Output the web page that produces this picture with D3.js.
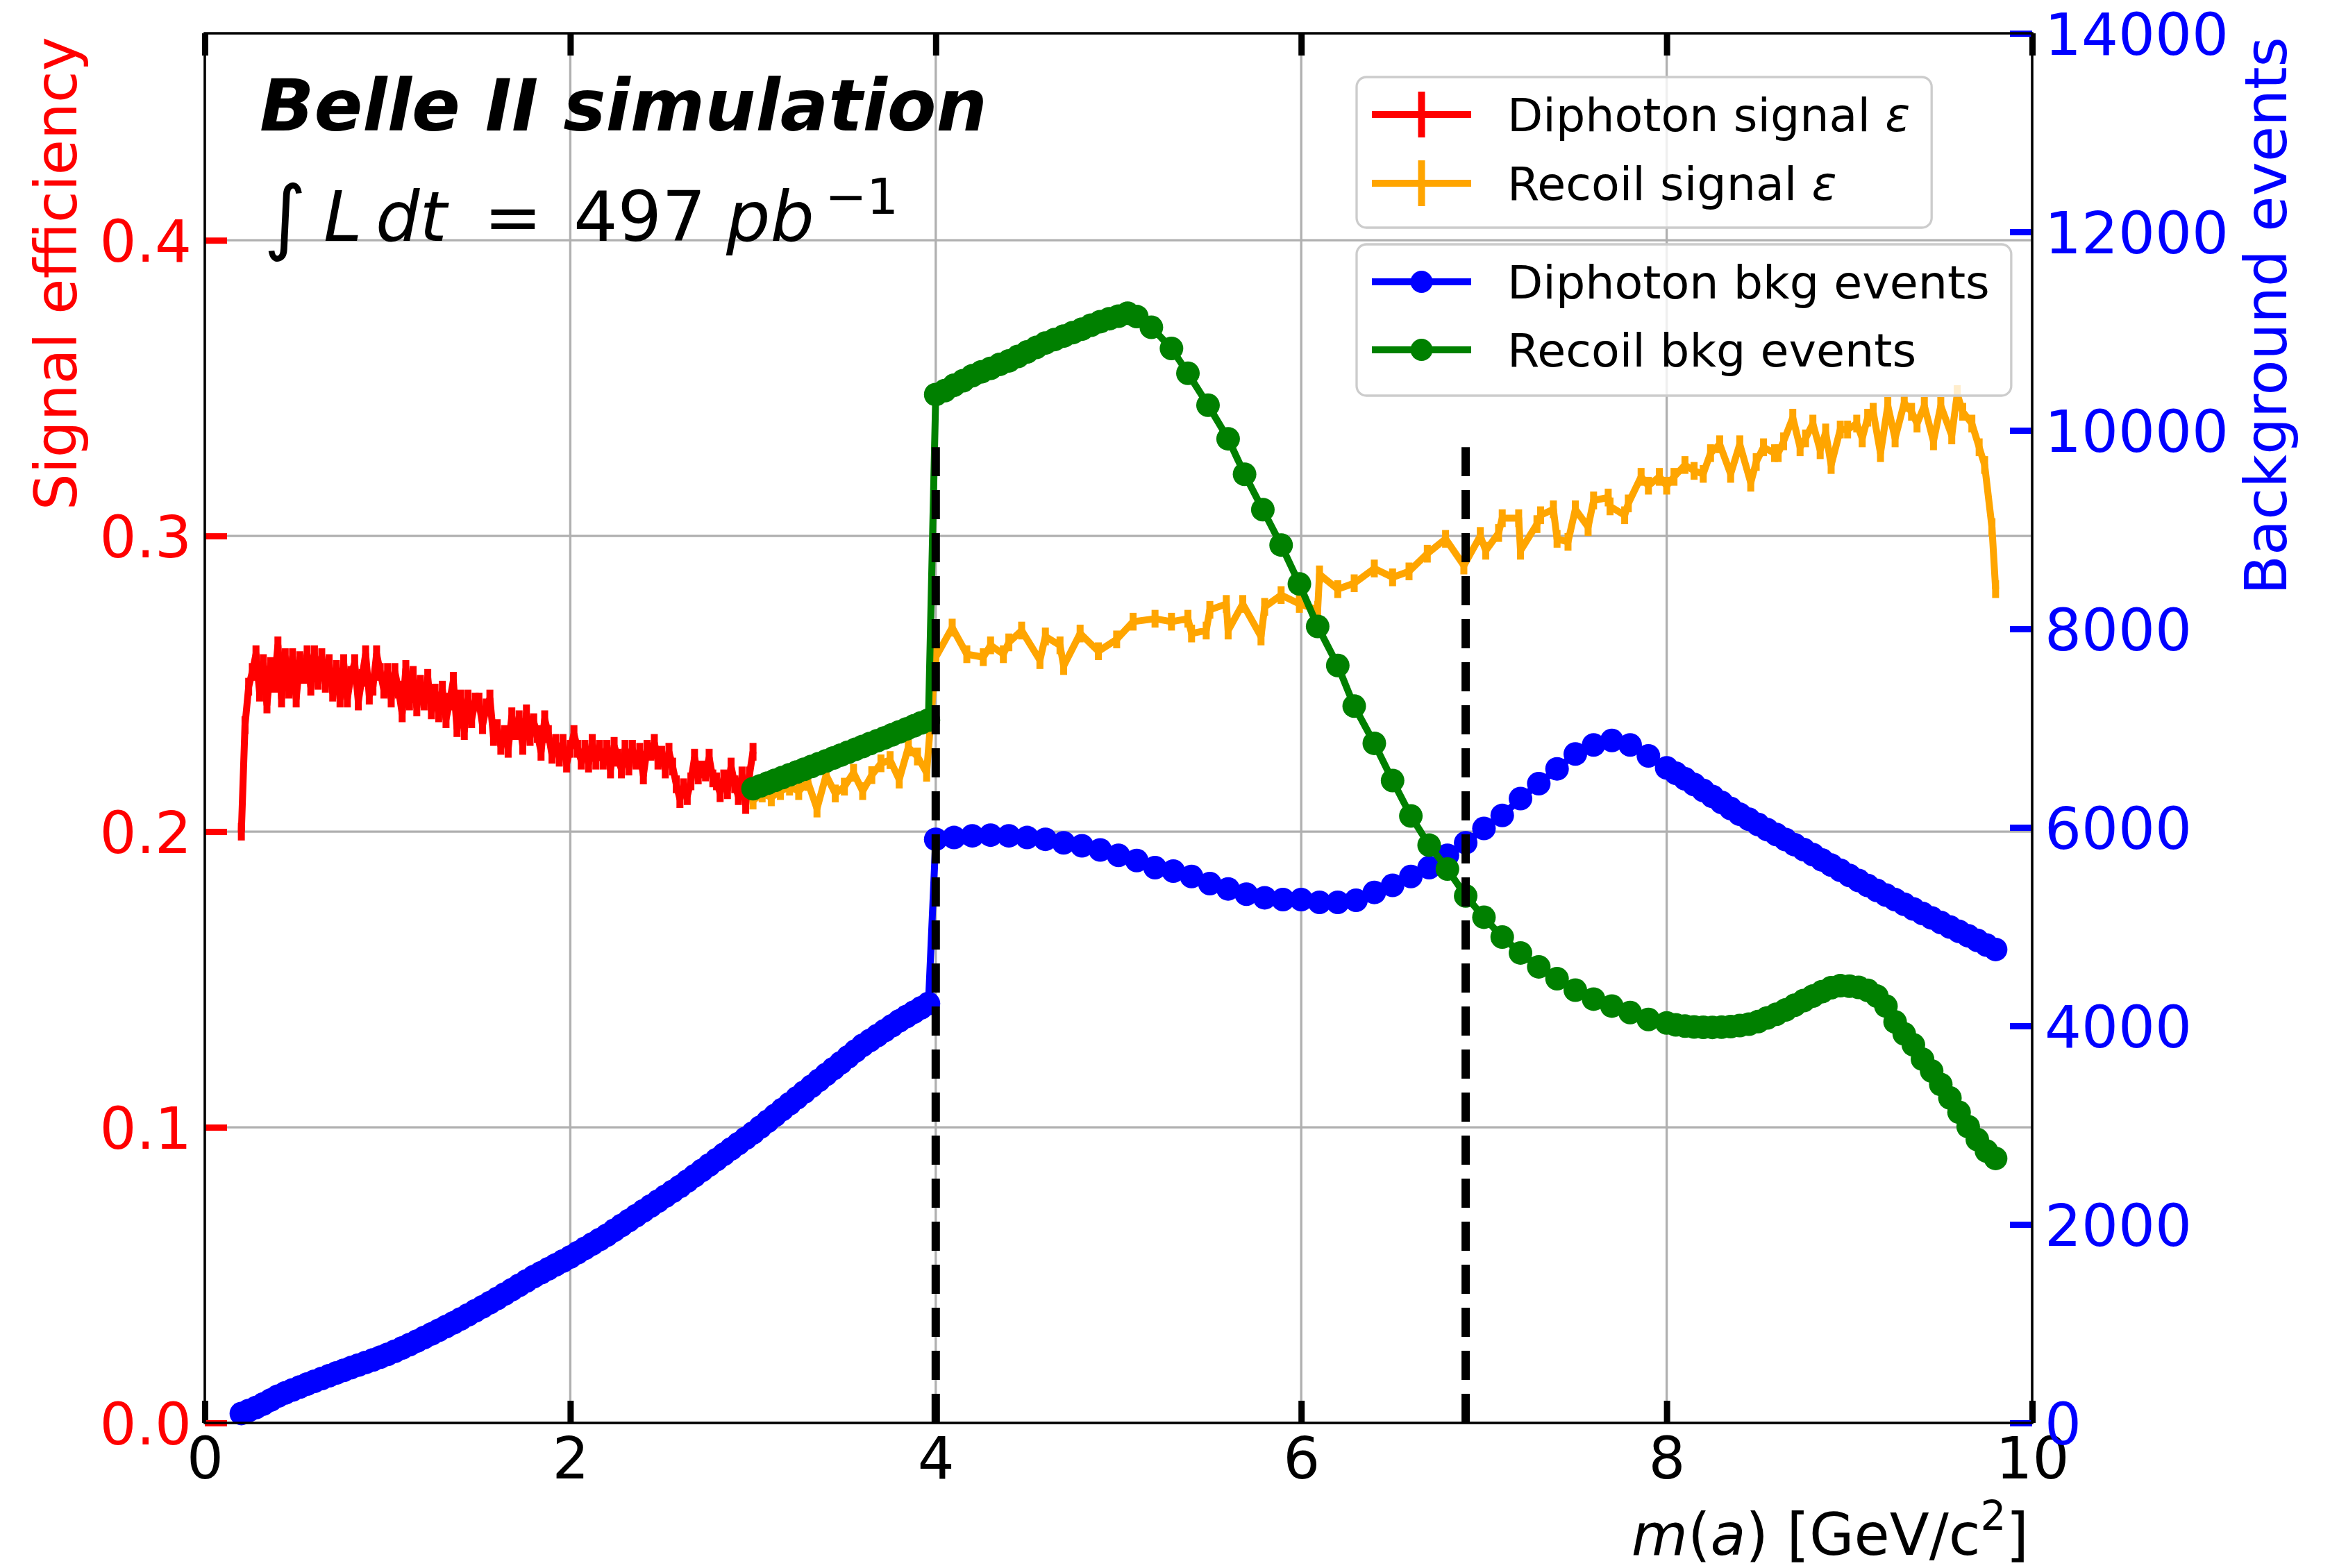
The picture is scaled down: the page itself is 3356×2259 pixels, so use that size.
<!DOCTYPE html>
<html>
<head>
<meta charset="utf-8">
<script src="https://cdn.jsdelivr.net/npm/d3@7"></script>
<style>
  html, body { margin: 0; padding: 0; background: #ffffff; }
  svg { display: block; font-family: "DejaVu Sans", sans-serif; }
</style>
</head>
<body>
<svg id="chart" width="3356" height="2259"></svg>
<script>
// ---------------------------------------------------------------------------
// Tick labels
// ---------------------------------------------------------------------------
const massTicks = [0, 2, 4, 6, 8, 10];
const effTicks = [0.0, 0.1, 0.2, 0.3, 0.4];
const bkgTicks = [0, 2000, 4000, 6000, 8000, 10000, 12000, 14000];

// Mass points of a regular scan, start..stop inclusive
function scan(start, stop, step) {
  const n = Math.round((stop - start) / step);
  return d3.range(n + 1).map(i => +(start + i * step).toFixed(2));
}

// ---------------------------------------------------------------------------
// Diphoton signal efficiency (left axis)
// ---------------------------------------------------------------------------
const diphotonEffMass = scan(0.20, 3.00, 0.02);
const diphotonEff = [
  0.200, 0.236, 0.249, 0.254, 0.260, 0.247, 0.257, 0.243, 0.256, 0.250,
  0.263, 0.245, 0.259, 0.248, 0.259, 0.245, 0.258, 0.253, 0.260, 0.249,
  0.260, 0.251, 0.259, 0.250, 0.257, 0.247, 0.255, 0.245, 0.257, 0.245,
  0.253, 0.257, 0.244, 0.252, 0.260, 0.246, 0.249, 0.260, 0.254, 0.248,
  0.254, 0.245, 0.254, 0.248, 0.240, 0.255, 0.244, 0.253, 0.242, 0.250,
  0.244, 0.252, 0.241, 0.247, 0.240, 0.248, 0.238, 0.244, 0.251, 0.235,
  0.245, 0.234, 0.245, 0.238, 0.244, 0.244, 0.236, 0.242, 0.245, 0.232,
  0.235, 0.229, 0.233, 0.228, 0.239, 0.234, 0.238, 0.229, 0.240, 0.232,
  0.237, 0.233, 0.227, 0.238, 0.233, 0.226, 0.230, 0.225, 0.230, 0.223,
  0.228, 0.233, 0.228, 0.224, 0.228, 0.223, 0.230, 0.224, 0.228, 0.224,
  0.228, 0.221, 0.229, 0.225, 0.221, 0.228, 0.222, 0.228, 0.224, 0.227,
  0.219, 0.228, 0.227, 0.230, 0.224, 0.226, 0.221, 0.227, 0.222, 0.216,
  0.211, 0.215, 0.212, 0.217, 0.225, 0.219, 0.221, 0.220, 0.225, 0.218,
  0.217, 0.213, 0.218, 0.214, 0.222, 0.216, 0.212, 0.219, 0.209, 0.219,
  0.227
];
const diphotonEffErr = 0.003;

// ---------------------------------------------------------------------------
// Recoil signal efficiency (left axis)
// ---------------------------------------------------------------------------
const recoilEffMass = [
  3.00, 3.05, 3.10, 3.15, 3.20, 3.25, 3.30, 3.35, 3.40, 3.45,
  3.50, 3.55, 3.60, 3.65, 3.70, 3.75, 3.80, 3.85, 3.90, 3.95,
  4.00, 4.09, 4.17, 4.26, 4.30, 4.37, 4.40, 4.47, 4.57, 4.60,
  4.68, 4.70, 4.79, 4.89, 4.99, 5.08, 5.20, 5.29, 5.38, 5.40,
  5.48, 5.50, 5.59, 5.60, 5.68, 5.78, 5.80, 5.89, 5.99, 6.09,
  6.10, 6.20, 6.29, 6.40, 6.50, 6.59,
  6.69, 6.79, 6.89, 6.98, 7.01, 7.08, 7.10, 7.19, 7.20, 7.29,
  7.31, 7.38, 7.40, 7.46, 7.50, 7.57, 7.60, 7.68, 7.69, 7.77,
  7.79, 7.86, 7.90, 7.96, 8.00, 8.04, 8.10, 8.15, 8.20, 8.24,
  8.29, 8.35, 8.40, 8.46, 8.49, 8.53, 8.59, 8.61, 8.64, 8.69,
  8.73, 8.76, 8.80, 8.84, 8.87, 8.90, 8.95, 8.99, 9.04, 9.07,
  9.10, 9.13, 9.17, 9.21, 9.25, 9.30, 9.34, 9.37, 9.41, 9.46,
  9.50, 9.56, 9.59, 9.62, 9.67, 9.71, 9.74, 9.78, 9.80
];
const recoilEff = [
  0.2105, 0.2129, 0.2116, 0.2137, 0.2152, 0.2137, 0.2168, 0.2078, 0.2191, 0.2129,
  0.2152, 0.2199, 0.2137, 0.2191, 0.2231, 0.2242, 0.2176, 0.2285, 0.2254, 0.2199,
  0.259, 0.269, 0.260, 0.259, 0.263, 0.260, 0.264, 0.268, 0.258, 0.266,
  0.263, 0.256, 0.267, 0.261, 0.265, 0.271, 0.272, 0.271, 0.272, 0.267,
  0.268, 0.275, 0.277, 0.268, 0.277, 0.266, 0.276, 0.280, 0.277, 0.275,
  0.287, 0.282, 0.284, 0.289, 0.286, 0.288,
  0.294, 0.299, 0.290, 0.300, 0.295, 0.301, 0.306, 0.306, 0.295, 0.304,
  0.307, 0.309, 0.299, 0.298, 0.309, 0.303, 0.312, 0.313, 0.310, 0.307,
  0.311, 0.320, 0.317, 0.320, 0.317, 0.320, 0.324, 0.322, 0.321, 0.328,
  0.331, 0.321, 0.331, 0.318, 0.325, 0.330, 0.328, 0.328, 0.332, 0.340,
  0.330, 0.333, 0.338, 0.329, 0.335, 0.324, 0.336, 0.336, 0.338, 0.333,
  0.340, 0.342, 0.328, 0.344, 0.333, 0.345, 0.342, 0.338, 0.344, 0.332,
  0.344, 0.334, 0.348, 0.342, 0.338, 0.330, 0.324, 0.303, 0.282
];
const recoilEffErr = 0.003;

// ---------------------------------------------------------------------------
// Diphoton background events (right axis)
// ---------------------------------------------------------------------------
const diphotonBkgMass = [
  ...scan(0.20, 3.96, 0.04),
  ...scan(4.00, 7.90, 0.10),
  ...scan(8.00, 9.80, 0.05)
];
const diphotonBkg = [
  95, 125, 155, 190, 230, 270, 302, 332, 362, 392,
  420, 448, 476, 503, 530, 557, 583, 609, 635, 662,
  690, 722, 755, 789, 824, 860, 896, 933, 970, 1008,
  1047, 1088, 1129, 1170, 1211, 1253, 1298, 1342, 1386, 1430,
  1474, 1513, 1552, 1592, 1631, 1671, 1715, 1759, 1803, 1847,
  1891, 1940, 1989, 2038, 2087, 2136, 2185, 2234, 2284, 2333,
  2382, 2436, 2490, 2544, 2598, 2652, 2706, 2760, 2814, 2868,
  2921, 2980, 3039, 3098, 3157, 3215, 3274, 3333, 3392, 3451,
  3510, 3569, 3628, 3687, 3746, 3804, 3853, 3902, 3952, 4001,
  4050, 4094, 4138, 4182, 4225,
  5880, 5898, 5915, 5922, 5915, 5898, 5880, 5844, 5815, 5773,
  5719, 5666, 5594, 5559, 5505, 5434, 5380, 5327, 5291, 5273,
  5273, 5245, 5245, 5266, 5345, 5416, 5505, 5594, 5719, 5845,
  5990, 6120, 6290, 6440, 6590, 6740, 6830, 6876, 6830, 6720,
  6600, 6545, 6490, 6432, 6372, 6312, 6252, 6190, 6132, 6082,
  6030, 5978, 5928, 5878, 5826, 5776, 5725, 5672, 5620, 5568,
  5516, 5465, 5415, 5365, 5318, 5272, 5225, 5178, 5133, 5088,
  5042, 4997, 4952, 4908, 4862, 4815, 4770
];

// ---------------------------------------------------------------------------
// Recoil background events (right axis)
// ---------------------------------------------------------------------------
const recoilBkgMass = [
  ...scan(3.00, 3.96, 0.04),
  ...scan(4.00, 5.05, 0.05),
  5.10, 5.18, 5.29, 5.38, 5.49, 5.60, 5.69, 5.79, 5.89, 5.99,
  6.09, 6.20, 6.29, 6.40, 6.50, 6.60,
  ...scan(6.70, 8.00, 0.10),
  ...scan(8.05, 9.80, 0.05)
];
const recoilBkg = [
  6390, 6418, 6446, 6474, 6502, 6530, 6558, 6586, 6614, 6642,
  6670, 6699, 6728, 6757, 6786, 6815, 6844, 6873, 6902, 6932,
  6962, 6992, 7022, 7052, 7080,
  10361, 10400, 10455, 10500, 10550, 10590, 10625, 10665, 10700, 10745,
  10790, 10835, 10880, 10915, 10950, 10985, 11020, 11060, 11095, 11125,
  11150, 11180,
  11146, 11039, 10825, 10575, 10254, 9915, 9558, 9201, 8845, 8453,
  8024, 7631, 7222, 6847, 6472, 6115,
  5821, 5580, 5310, 5095, 4895, 4735, 4595, 4475, 4360, 4270,
  4200, 4135, 4065, 4030,
  4010, 3998, 3990, 3986, 3985, 3987, 3993, 4003, 4018, 4043,
  4080, 4117, 4160, 4208, 4255, 4300, 4345, 4385, 4405, 4400,
  4388, 4358, 4300, 4200, 4040, 3920, 3810, 3665, 3545, 3410,
  3275, 3130, 2985, 2855, 2740, 2665
];

// Analysis boundaries (dashed markers), height on the efficiency axis
const boundaryMass = [4.0, 6.9];
const boundaryTop = 0.33;

// ---------------------------------------------------------------------------
// Layout and scales
// ---------------------------------------------------------------------------
const plot = { left: 295, right: 2927, top: 48, bottom: 2050 };
const TICK_FONT = 83.3;
const LEGEND_FONT = 66.7;
const LW = 10;
const MARKER_R = 17;

const svg = d3.select("#chart");
svg.append("rect").attr("width", 3356).attr("height", 2259).attr("fill", "#fff");

const x = d3.scaleLinear().domain([0, 10]).range([plot.left, plot.right]);
const yEff = d3.scaleLinear().domain([0, 0.47]).range([plot.bottom, plot.top]);
const yBkg = d3.scaleLinear().domain([0, 14000]).range([plot.bottom, plot.top]);

// ---------------------------------------------------------------------------
// Grid
// ---------------------------------------------------------------------------
const grid = svg.append("g").attr("stroke", "#b0b0b0").attr("stroke-width", 3.3);
grid.selectAll("line.gx").data(massTicks).join("line")
  .attr("class", "gx")
  .attr("x1", d => x(d)).attr("x2", d => x(d))
  .attr("y1", plot.top).attr("y2", plot.bottom);
grid.selectAll("line.gy").data(effTicks).join("line")
  .attr("class", "gy")
  .attr("x1", plot.left).attr("x2", plot.right)
  .attr("y1", d => yEff(d)).attr("y2", d => yEff(d));

// ---------------------------------------------------------------------------
// Axes (inward ticks)
// ---------------------------------------------------------------------------
function styleAxis(g, color, dy) {
  g.select(".domain").remove();
  g.attr("font-family", "DejaVu Sans");
  g.selectAll(".tick line").attr("stroke", color).attr("stroke-width", 9);
  g.selectAll(".tick text").attr("fill", color).attr("font-size", TICK_FONT);
  if (dy) g.selectAll(".tick text").attr("dy", dy);
}

svg.append("g")
  .attr("transform", `translate(0,${plot.bottom})`)
  .call(d3.axisBottom(x).tickValues(massTicks).tickFormat(d3.format("d"))
    .tickSize(-32).tickPadding(21))
  .call(g => styleAxis(g, "#000"));

svg.append("g")
  .attr("transform", `translate(0,${plot.top})`)
  .call(d3.axisTop(x).tickValues(massTicks).tickFormat(() => "").tickSize(-32))
  .call(g => styleAxis(g, "#000"));

svg.append("g")
  .attr("transform", `translate(${plot.left},0)`)
  .call(d3.axisLeft(yEff).tickValues(effTicks).tickFormat(d3.format(".1f"))
    .tickSize(-32).tickPadding(19))
  .call(g => styleAxis(g, "#ff0000", "0.36em"));

svg.append("g")
  .attr("transform", `translate(${plot.right},0)`)
  .call(d3.axisRight(yBkg).tickValues(bkgTicks).tickFormat(d3.format("d"))
    .tickSize(-32).tickPadding(18))
  .call(g => styleAxis(g, "#0000ff", "0.36em"));

// ---------------------------------------------------------------------------
// Efficiency curves with vertical error bars
// ---------------------------------------------------------------------------
function drawEfficiency(mass, values, err, color) {
  const pts = mass.map((m, i) => [m, values[i]]);
  const g = svg.append("g");
  g.append("path")
    .attr("d", d3.line().x(d => x(d[0])).y(d => yEff(d[1]))(pts))
    .attr("fill", "none").attr("stroke", color)
    .attr("stroke-width", LW).attr("stroke-linejoin", "round");
  g.selectAll("line").data(pts).join("line")
    .attr("x1", d => x(d[0])).attr("x2", d => x(d[0]))
    .attr("y1", d => yEff(d[1] - err)).attr("y2", d => yEff(d[1] + err))
    .attr("stroke", color).attr("stroke-width", LW);
}
drawEfficiency(diphotonEffMass, diphotonEff, diphotonEffErr, "#ff0000");
drawEfficiency(recoilEffMass, recoilEff, recoilEffErr, "#ffa500");

// ---------------------------------------------------------------------------
// Background curves with circle markers
// ---------------------------------------------------------------------------
function drawBackground(mass, values, color) {
  const pts = mass.map((m, i) => [m, values[i]]);
  const g = svg.append("g");
  g.append("path")
    .attr("d", d3.line().x(d => x(d[0])).y(d => yBkg(d[1]))(pts))
    .attr("fill", "none").attr("stroke", color)
    .attr("stroke-width", LW).attr("stroke-linejoin", "round");
  g.selectAll("circle").data(pts).join("circle")
    .attr("cx", d => x(d[0])).attr("cy", d => yBkg(d[1]))
    .attr("r", MARKER_R).attr("fill", color);
}
drawBackground(diphotonBkgMass, diphotonBkg, "#0000ff");
drawBackground(recoilBkgMass, recoilBkg, "#008000");

// ---------------------------------------------------------------------------
// Dashed boundaries, drawn from the bottom upward
// ---------------------------------------------------------------------------
svg.append("g").selectAll("line").data(boundaryMass).join("line")
  .attr("x1", d => x(d)).attr("x2", d => x(d))
  .attr("y1", yEff(0)).attr("y2", yEff(boundaryTop))
  .attr("stroke", "#000").attr("stroke-width", 12)
  .attr("stroke-dasharray", "42 20");

// ---------------------------------------------------------------------------
// Frame
// ---------------------------------------------------------------------------
svg.append("rect")
  .attr("x", plot.left).attr("y", plot.top)
  .attr("width", plot.right - plot.left).attr("height", plot.bottom - plot.top)
  .attr("fill", "none").attr("stroke", "#000").attr("stroke-width", 3.5);

// ---------------------------------------------------------------------------
// Axis titles
// ---------------------------------------------------------------------------
svg.append("text")
  .attr("transform", `translate(110,${plot.top + 5}) rotate(-90)`)
  .attr("text-anchor", "end").attr("font-size", TICK_FONT).attr("fill", "#ff0000")
  .text("Signal efficiency");

svg.append("text")
  .attr("transform", `translate(3293,${plot.top + 5}) rotate(-90)`)
  .attr("text-anchor", "end").attr("font-size", TICK_FONT).attr("fill", "#0000ff")
  .text("Background events");

const xTitle = svg.append("text")
  .attr("x", 2922).attr("y", 2240)
  .attr("text-anchor", "end").attr("font-size", TICK_FONT).attr("fill", "#000");
xTitle.append("tspan").attr("font-style", "italic").text("m");
xTitle.append("tspan").text("(");
xTitle.append("tspan").attr("font-style", "italic").text("a");
xTitle.append("tspan").text(") [GeV/c");
xTitle.append("tspan").attr("font-size", 58).attr("dy", -36).text("2");
xTitle.append("tspan").attr("dy", 36).text("]");

// ---------------------------------------------------------------------------
// Experiment label and luminosity
// ---------------------------------------------------------------------------
svg.append("text")
  .attr("x", 374).attr("y", 188)
  .attr("font-size", 103).attr("font-weight", "bold").attr("font-style", "italic")
  .attr("fill", "#000")
  .text("Belle II simulation");

const lumi = svg.append("g").attr("fill", "#000");
lumi.append("text").attr("x", 380).attr("y", 352).attr("font-size", 118).text("\u222B");
lumi.append("text").attr("x", 466).attr("y", 347).attr("font-size", 100)
  .attr("font-style", "italic").text("L");
lumi.append("text").attr("x", 541).attr("y", 347).attr("font-size", 100)
  .attr("font-style", "italic").text("dt");
lumi.append("text").attr("x", 697).attr("y", 347).attr("font-size", 100).text("=");
lumi.append("text").attr("x", 826).attr("y", 347).attr("font-size", 100).text("497");
lumi.append("text").attr("x", 1046).attr("y", 347).attr("font-size", 100)
  .attr("font-style", "italic").text("pb");
lumi.append("text").attr("x", 1188).attr("y", 308).attr("font-size", 72).text("\u22121");

// ---------------------------------------------------------------------------
// Legends
// ---------------------------------------------------------------------------
function drawLegend(box) {
  const g = svg.append("g");
  const frame = g.append("rect")
    .attr("x", box.x).attr("y", box.y).attr("height", box.h).attr("rx", 14)
    .attr("fill", "#fff").attr("fill-opacity", 0.8)
    .attr("stroke", "#cccccc").attr("stroke-width", 3.3);
  let right = 0;
  box.entries.forEach((e, i) => {
    const cy = box.rows[i];
    g.append("line").attr("x1", 1976).attr("x2", 2119).attr("y1", cy).attr("y2", cy)
      .attr("stroke", e.color).attr("stroke-width", LW);
    if (e.kind === "err") {
      g.append("line").attr("x1", 2047.5).attr("x2", 2047.5)
        .attr("y1", cy - 33).attr("y2", cy + 33)
        .attr("stroke", e.color).attr("stroke-width", LW);
    } else {
      g.append("circle").attr("cx", 2047.5).attr("cy", cy).attr("r", 16).attr("fill", e.color);
    }
    const t = g.append("text").attr("x", 2171).attr("y", cy + 24)
      .attr("font-size", LEGEND_FONT).attr("fill", "#000").text(e.label);
    if (e.symbol) t.append("tspan").attr("font-style", "italic").text(e.symbol);
    right = Math.max(right, 2171 + t.node().getComputedTextLength());
  });
  frame.attr("width", right + 31 - box.x);
}

drawLegend({
  x: 1954, y: 111, h: 217, rows: [165, 264],
  entries: [
    { label: "Diphoton signal ", symbol: "\u03B5", color: "#ff0000", kind: "err" },
    { label: "Recoil signal ", symbol: "\u03B5", color: "#ffa500", kind: "err" }
  ]
});
drawLegend({
  x: 1954, y: 352, h: 218, rows: [406, 504],
  entries: [
    { label: "Diphoton bkg events", color: "#0000ff", kind: "marker" },
    { label: "Recoil bkg events", color: "#008000", kind: "marker" }
  ]
});
</script>
</body>
</html>
